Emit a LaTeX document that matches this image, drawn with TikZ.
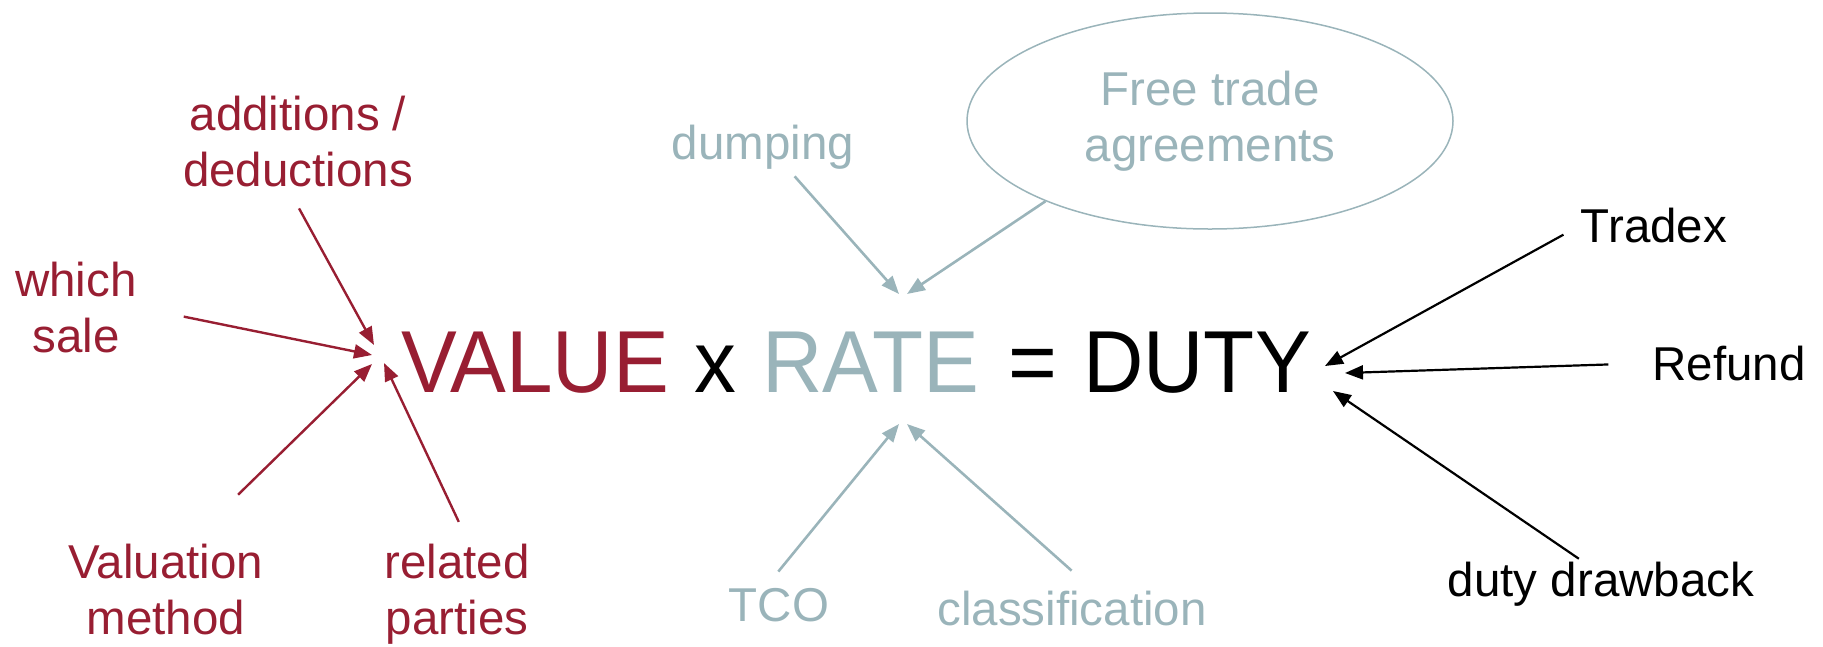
\documentclass[tikz,border=0pt]{standalone}
\usepackage{fontspec}
\setmainfont{Liberation Sans}
\usetikzlibrary{arrows.meta,shapes.geometric}
\definecolor{valred}{HTML}{981E32}
\definecolor{rategrey}{HTML}{9AB4BA}
\begin{document}
\begin{tikzpicture}[x=1pt,y=-1pt,
  lbl/.style={font=\fontsize{47.5}{56}\selectfont, inner sep=0pt, outer sep=0pt, align=center, anchor=base},
  big/.style={font=\fontsize{88}{100}\selectfont, inner sep=0pt, outer sep=0pt, anchor=base},
  redarr/.style={draw=valred, line width=2.4pt, -{Triangle[length=18pt,width=14pt]}},
  greyarr/.style={draw=rategrey, line width=2.6pt, -{Triangle[length=18pt,width=14pt]}},
  blkarr/.style={draw=black, line width=2.2pt, -{Triangle[length=18pt,width=14pt]}}
]
\useasboundingbox (0,0) rectangle (1823,646);

% equation
\node[big, text=valred] (value) at (535,392) {\scalebox{0.95}[1]{VALUE}};
\node[big] (times) at (715,392) {\scalebox{0.95}[1]{x}};
\node[big, text=rategrey] (rate) at (871,392) {\scalebox{0.95}[1]{RATE}};
\node[big] (equals) at (1032.5,392) {\scalebox{0.95}[1]{=}};
\node[big] (duty) at (1197,392) {\scalebox{0.95}[1]{DUTY}};

% red labels (base = baseline of last line)
\node[lbl, text=valred] (add) at (298,186) {additions /\\deductions};
\node[lbl, text=valred] (which) at (76,352) {which\\sale};
\node[lbl, text=valred] (val) at (166,634) {Valuation\\method};
\node[lbl, text=valred] (rel) at (457,634) {related\\parties};

% grey labels
\node[lbl, text=rategrey] (dump) at (763,159) {dumping};
\node[ellipse, draw=rategrey, line width=1.5pt, minimum width=486pt, minimum height=216pt,
      inner sep=0pt, text=rategrey, font=\fontsize{47.5}{56}\selectfont, align=center] (fta) at (1210,121) {Free trade\\agreements};
\node[lbl, text=rategrey] (tco) at (779,621) {TCO};
\node[lbl, text=rategrey] (cls) at (1072,625) {classification};

% black labels
\node[lbl] (trd) at (1654,242) {Tradex};
\node[lbl] (ref) at (1729,380) {Refund};
\node[lbl] (ddb) at (1601,596) {duty drawback};

% arrow tips
\coordinate (tAdd) at (374,345);
\coordinate (tWhich) at (372,355);
\coordinate (tVal) at (372,364);
\coordinate (tRel) at (384,363);
\coordinate (tDump) at (899,294);
\coordinate (tFta) at (907,294);
\coordinate (tTco) at (899,424);
\coordinate (tCls) at (907,424);
\coordinate (tTrd) at (1325,366);
\coordinate (tRef) at (1345,373);
\coordinate (tDdb) at (1333,391);

% red arrows
\draw[redarr, shorten <=25pt] ([xshift=-11pt]add.south) -- (tAdd);
\draw[redarr, shorten <=48pt] (which.east) -- (tWhich);
\draw[redarr, shorten <=70pt] ([xshift=22pt]val.north) -- (tVal);
\draw[redarr, shorten <=24pt] ([xshift=12pt]rel.north) -- (tRel);

% grey arrows
\draw[greyarr, shorten <=10pt] ([xshift=25pt]dump.south) -- (tDump);
\draw[greyarr] (fta.206) -- (tFta);
\draw[greyarr, shorten <=21pt] ([xshift=-14pt]tco.north) -- (tTco);
\draw[greyarr, shorten <=30pt] ([xshift=22pt]cls.north) -- (tCls);

% black arrows
\draw[blkarr, shorten <=20pt] (trd.west) -- (tTrd);
\draw[blkarr, shorten <=44pt] (ref.west) -- (tRef);
\draw[blkarr, shorten <=5pt] ([xshift=-18pt]ddb.north) -- (tDdb);
\end{tikzpicture}
\end{document}
